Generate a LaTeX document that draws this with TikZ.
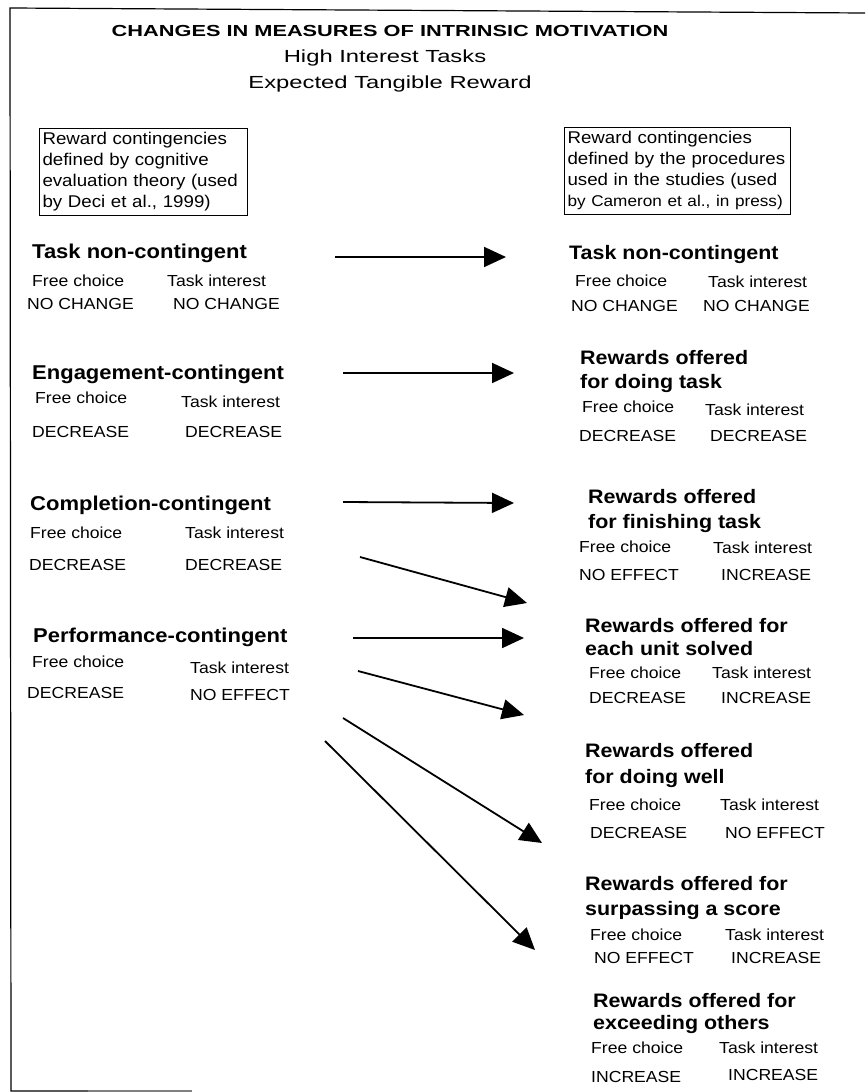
\documentclass[tikz,border=0pt]{standalone}
\usepackage{fontspec}
\setmainfont{Liberation Sans}
\newfontfamily\hdrfont[FakeStretch=1.36]{Liberation Sans}
\newfontfamily\bodyfont[FakeStretch=1.1]{Liberation Sans}
\usetikzlibrary{arrows.meta}
\begin{document}
\begin{tikzpicture}[x=1pt,y=-1pt,
 txt/.style={anchor=base west,inner sep=0pt,font=\bodyfont\fontsize{16}{19}\selectfont},
 head/.style={anchor=base west,inner sep=0pt,font=\bodyfont\bfseries\fontsize{20}{24}\selectfont},
 headr/.style={anchor=base west,inner sep=0pt,font=\bodyfont\bfseries\fontsize{19.5}{24}\selectfont},
 titletxt/.style={anchor=base,inner sep=0pt,font=\hdrfont\bfseries\fontsize{16}{19}\selectfont},
 subtxt/.style={anchor=base,inner sep=0pt,font=\hdrfont\fontsize{17.5}{21}\selectfont},
 boxed/.style={draw,line width=1pt,anchor=north west,align=left,inner xsep=3pt,inner ysep=4pt,font=\bodyfont\fontsize{17}{21}\selectfont},
 arr/.style={line width=1.8pt,-{Triangle[length=22pt,width=20pt]}},
 framel/.style={line width=1.2pt}]
\useasboundingbox (0,0) rectangle (865,1092);
% frame
\coordinate (f1) at (10,8);
\coordinate (f2) at (865,13);
\coordinate (f3) at (11,1091);
\coordinate (f4) at (88,1091);
\coordinate (f5) at (192,1091);
\draw[framel] (f2) -- (f1) -- (f3) -- (f4);
\draw[framel,gray] (f4) -- (f5);
% titles
\node[titletxt] (t1) at (390,36) {CHANGES IN MEASURES OF INTRINSIC MOTIVATION};
\node[subtxt] (t2) at (385,62) {High Interest Tasks};
\node[subtxt] (t3) at (390,88) {Expected Tangible Reward};
% boxes
\node[boxed,text width=202pt] (lbox) at (39,128) {Reward contingencies\\defined by cognitive\\evaluation theory (used\\by Deci et al., 1999)};
\node[boxed,text width=220pt] (rbox) at (564,127) {Reward contingencies\\defined by the procedures\\used in the studies (used\\\mbox{\fontsize{15.6}{21}\selectfont by Cameron et al., in press)}};
% left column
\node[head] (l1h) at (32,258) {Task non-contingent};
\node[txt] (l1a) at (32,286) {Free choice};
\node[txt] (l1b) at (167,286) {Task interest};
\node[txt] (l1c) at (27,309) {NO CHANGE};
\node[txt] (l1d) at (173,309) {NO CHANGE};
\node[head] (l2h) at (32,379) {Engagement-contingent};
\node[txt] (l2a) at (35,403) {Free choice};
\node[txt] (l2b) at (181,407) {Task interest};
\node[txt] (l2c) at (32,437) {DECREASE};
\node[txt] (l2d) at (185,437) {DECREASE};
\node[head] (l3h) at (30,510) {Completion-contingent};
\node[txt] (l3a) at (30,538) {Free choice};
\node[txt] (l3b) at (185,538) {Task interest};
\node[txt] (l3c) at (29,570) {DECREASE};
\node[txt] (l3d) at (185,570) {DECREASE};
\node[head] (l4h) at (33,642) {Performance-contingent};
\node[txt] (l4a) at (32,667) {Free choice};
\node[txt] (l4b) at (190,673) {Task interest};
\node[txt] (l4c) at (27,698) {DECREASE};
\node[txt] (l4d) at (190,700) {NO EFFECT};
% right column
\node[headr] (r1h) at (569,259) {Task non-contingent};
\node[txt] (r1a) at (575,286) {Free choice};
\node[txt] (r1b) at (708,287) {Task interest};
\node[txt] (r1c) at (571,311) {NO CHANGE};
\node[txt] (r1d) at (703,311) {NO CHANGE};
\node[headr] (r2h1) at (580,364) {Rewards offered};
\node[headr] (r2h2) at (580,388) {for doing task};
\node[txt] (r2a) at (582,412) {Free choice};
\node[txt] (r2b) at (705,415) {Task interest};
\node[txt] (r2c) at (579,441) {DECREASE};
\node[txt] (r2d) at (710,441) {DECREASE};
\node[headr] (r3h1) at (588,503) {Rewards offered};
\node[headr] (r3h2) at (588,528) {for finishing task};
\node[txt] (r3a) at (579,552) {Free choice};
\node[txt] (r3b) at (713,553) {Task interest};
\node[txt] (r3c) at (579,580) {NO EFFECT};
\node[txt] (r3d) at (721,580) {INCREASE};
\node[headr] (r4h1) at (585,632) {Rewards offered for};
\node[headr] (r4h2) at (585,655) {each unit solved};
\node[txt] (r4a) at (589,678) {Free choice};
\node[txt] (r4b) at (712,678) {Task interest};
\node[txt] (r4c) at (589,703) {DECREASE};
\node[txt] (r4d) at (721,703) {INCREASE};
\node[headr] (r5h1) at (585,757) {Rewards offered};
\node[headr] (r5h2) at (585,783) {for doing well};
\node[txt] (r5a) at (589,810) {Free choice};
\node[txt] (r5b) at (720,810) {Task interest};
\node[txt] (r5c) at (590,838) {DECREASE};
\node[txt] (r5d) at (725,838) {NO EFFECT};
\node[headr] (r6h1) at (585,890) {Rewards offered for};
\node[headr] (r6h2) at (585,915) {surpassing a score};
\node[txt] (r6a) at (590,940) {Free choice};
\node[txt] (r6b) at (725,940) {Task interest};
\node[txt] (r6c) at (594,963) {NO EFFECT};
\node[txt] (r6d) at (731,963) {INCREASE};
\node[headr] (r7h1) at (593,1007) {Rewards offered for};
\node[headr] (r7h2) at (593,1029) {exceeding others};
\node[txt] (r7a) at (591,1053) {Free choice};
\node[txt] (r7b) at (719,1053) {Task interest};
\node[txt] (r7c) at (591,1082) {INCREASE};
\node[txt] (r7d) at (728,1080) {INCREASE};
% arrows
\coordinate (a1s) at (335,257); \coordinate (a1e) at (506,257);
\coordinate (a2s) at (343,373); \coordinate (a2e) at (514,373);
\coordinate (a3s) at (343,502); \coordinate (a3e) at (514,503);
\coordinate (a4s) at (360,557); \coordinate (a4e) at (527,603);
\coordinate (a5s) at (353,638); \coordinate (a5e) at (524,638);
\coordinate (a6s) at (358,671); \coordinate (a6e) at (524,715);
\coordinate (a7s) at (343,718); \coordinate (a7e) at (542,843);
\coordinate (a8s) at (325,741); \coordinate (a8e) at (535,950);
\draw[arr] (a1s) -- (a1e);
\draw[arr] (a2s) -- (a2e);
\draw[arr] (a3s) -- (a3e);
\draw[arr] (a4s) -- (a4e);
\draw[arr] (a5s) -- (a5e);
\draw[arr] (a6s) -- (a6e);
\draw[arr] (a7s) -- (a7e);
\draw[arr] (a8s) -- (a8e);
\end{tikzpicture}
\end{document}
